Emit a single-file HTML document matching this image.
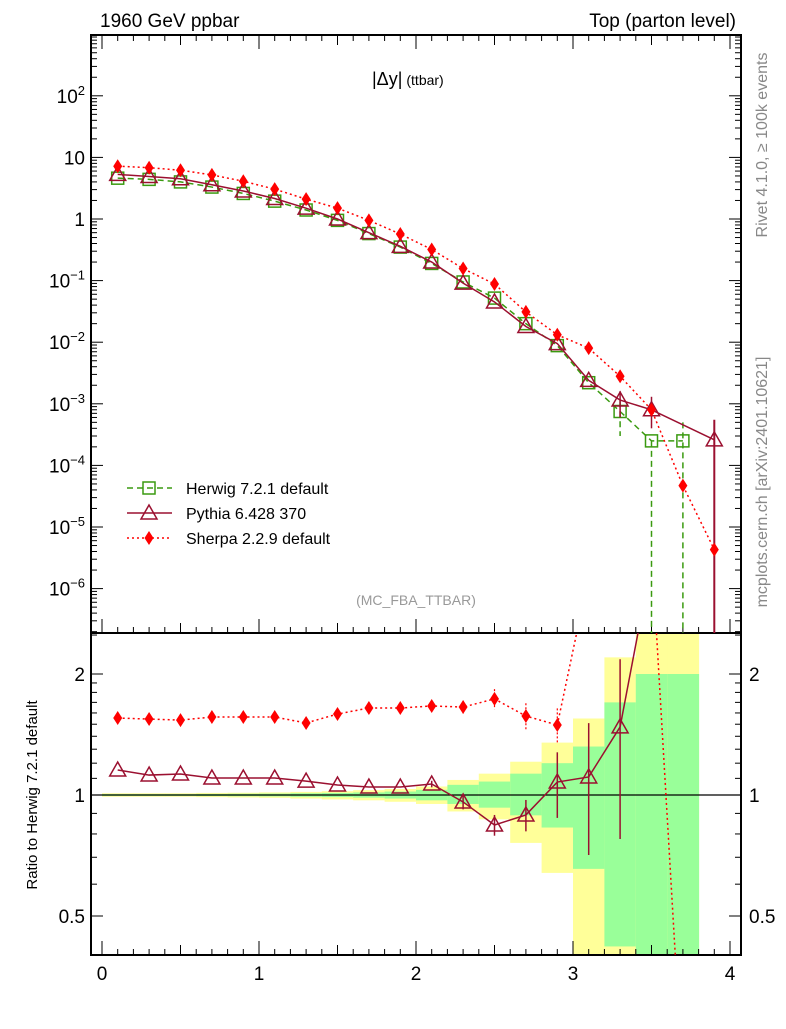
<!DOCTYPE html>
<html><head><meta charset="utf-8"><style>
body{margin:0;background:#fff;}
svg{font-family:"Liberation Sans",sans-serif;}
</style></head><body>
<svg id="c" width="786" height="1024" xmlns="http://www.w3.org/2000/svg"></svg>
<script>
const xs=[0.1,0.3,0.5,0.7,0.9,1.1,1.3,1.5,1.7,1.9,2.1,2.3,2.5,2.7,2.9,3.1,3.3,3.5,3.7,3.9];
const herwig=[4.6,4.4,4.0,3.3,2.6,1.95,1.4,0.95,0.58,0.35,0.19,0.095,0.052,0.02,0.0088,0.0022,0.00075,0.00025,0.00025,null];
const pythia=[5.3,4.9,4.5,3.6,2.85,2.15,1.5,1.0,0.6,0.36,0.2,0.091,0.045,0.018,0.0095,0.0024,0.00115,0.0008,null,0.00026];
const sherpa=[7.2,6.8,6.2,5.2,4.1,3.05,2.1,1.5,0.95,0.57,0.32,0.157,0.088,0.031,0.0132,0.008,0.0028,0.0008,0.000047,0.0000043];
const pythiaRatio=[1.154,1.121,1.128,1.102,1.102,1.102,1.083,1.059,1.047,1.047,1.065,0.961,0.842,0.892,1.077,1.109,1.477,null,null,null];
const pythiaRatioErr=[0,0,0,0,0,0,0,0,0,0,0.02,0.04,0.05,0.08,0.2,0.4,0.7,0,0,0];
const sherpaRatio=[1.554,1.545,1.536,1.563,1.563,1.563,1.511,1.59,1.646,1.646,1.665,1.655,1.734,1.572,1.493,null,null,null,null,null];
const sherpaRatioErr=[0,0,0,0,0,0,0,0,0.03,0.04,0.05,0.06,0.1,0.12,0.15,0,0,0,0,0];
const yelHi=[1.01,1.01,1.01,1.012,1.013,1.015,1.018,1.022,1.028,1.035,1.05,1.09,1.13,1.21,1.35,1.55,2.2,3,3,null];
const yelLo=[0.99,0.99,0.99,0.988,0.986,0.984,0.98,0.975,0.97,0.962,0.95,0.91,0.87,0.76,0.64,0.3,0.37,0.3,0.3,null];
const grnHi=[1.005,1.005,1.005,1.006,1.007,1.008,1.01,1.012,1.015,1.02,1.03,1.06,1.08,1.13,1.2,1.32,1.7,2.0,2.0,null];
const grnLo=[0.995,0.995,0.995,0.994,0.993,0.992,0.99,0.988,0.985,0.98,0.97,0.95,0.93,0.89,0.83,0.655,0.42,0.3,0.3,null];
const yTickExp=[-6,-5,-4,-3,-2,-1,0,1,2];
const xTicks=[0,1,2,3,4];
const rTicks=[0.5,1,2];

const S=document.getElementById('c');const NS='http://www.w3.org/2000/svg';
function el(t,a,p){const e=document.createElementNS(NS,t);for(const k in a)e.setAttribute(k,a[k]);(p||S).appendChild(e);return e;}
const L=91,R=741,T=35,MB=633,RB=955;
const X=v=>102+157*v;
const Y=v=>219-61.6*Math.log10(v);
const RY=v=>795-121*Math.log2(v);
const defs=el('defs',{});
const c1=el('clipPath',{id:'cm'},defs);el('rect',{x:L,y:T,width:R-L,height:MB-T},c1);
const c2=el('clipPath',{id:'cr'},defs);el('rect',{x:L,y:MB,width:R-L,height:RB-MB},c2);
const gb=el('g',{'clip-path':'url(#cr)'});
xs.forEach((x,i)=>{if(yelHi[i]==null)return;
 const r=el('rect',{x:X(x-0.1),y:RY(yelHi[i]),width:157*0.2+0.5,height:RY(yelLo[i])-RY(yelHi[i]),fill:'#ffff99'},gb);
 
 const g=el('rect',{x:X(x-0.1),y:RY(grnHi[i]),width:157*0.2+0.5,height:RY(grnLo[i])-RY(grnHi[i]),fill:'#99ff99'},gb);
 });
el('line',{x1:L,x2:R,y1:RY(1),y2:RY(1),stroke:'#000','stroke-width':1.2});
el('rect',{x:L,y:T,width:R-L,height:MB-T,fill:'none',stroke:'#000','stroke-width':2});
el('rect',{x:L,y:MB,width:R-L,height:RB-MB,fill:'none',stroke:'#000','stroke-width':2});
yTickExp.forEach(e=>{const y=Y(Math.pow(10,e));
 el('line',{x1:L,x2:L+12,y1:y,y2:y,stroke:'#000'});el('line',{x1:R,x2:R-12,y1:y,y2:y,stroke:'#000'});
 for(let m=2;m<10;m++){const yy=Y(m*Math.pow(10,e));if(yy<T)continue;
  el('line',{x1:L,x2:L+6,y1:yy,y2:yy,stroke:'#000'});el('line',{x1:R,x2:R-6,y1:yy,y2:yy,stroke:'#000'});}
 const t=el('text',{x:L-6,y:y+7,'text-anchor':'end','font-size':19});
 
 if(e==0)t.textContent='1';else if(e==1)t.textContent='10';else{t.textContent='10';const s=el('tspan',{dy:-8,'font-size':13},t);s.textContent=e<0?'\u2212'+(-e):e;}
});
for(let m=2;m<10;m++){const yy=Y(m*1e-7);if(yy<MB){el('line',{x1:L,x2:L+6,y1:yy,y2:yy,stroke:'#000'});el('line',{x1:R,x2:R-6,y1:yy,y2:yy,stroke:'#000'});}}
for(let k=0;k<=41;k++){const v=k*0.1;const x=X(v);if(x>R)break;const maj=k%10==0,mid=k%5==0;const h=maj?14:(mid?10:6);
 [MB,RB].forEach(b=>el('line',{x1:x,x2:x,y1:b,y2:b-h,stroke:'#000'}));el('line',{x1:x,x2:x,y1:T,y2:T+h,stroke:'#000'});}
xTicks.forEach(v=>{const t=el('text',{x:X(v),y:980,'text-anchor':'middle','font-size':19});t.textContent=v;
 });
const rmin=[0.4,0.6,0.7,0.8,0.9,1.1,1.2,1.3,1.4,1.5,1.6,1.7,1.8,1.9,2.5];
rmin.forEach(v=>{const y=RY(v);if(y<MB||y>RB)return;el('line',{x1:L,x2:L+6,y1:y,y2:y,stroke:'#000'});el('line',{x1:R,x2:R-6,y1:y,y2:y,stroke:'#000'});});
rTicks.forEach(v=>{const y=RY(v);el('line',{x1:L,x2:L+12,y1:y,y2:y,stroke:'#000'});el('line',{x1:R,x2:R-12,y1:y,y2:y,stroke:'#000'});
 const a=el('text',{x:L-6,y:y+7,'text-anchor':'end','font-size':19});a.textContent=v;
 const b=el('text',{x:R+8,y:y+7,'font-size':19});b.textContent=v;});
function poly(arr,f,clip,attrs,name){const g=el('g',{'clip-path':clip});
 let pts=[];xs.forEach((x,i)=>{if(arr[i]!=null)pts.push(X(x)+','+f(arr[i]));});
 el('polyline',Object.assign({points:pts.join(' '),fill:'none'},attrs),g);return g;}
function marker(g,type,x,y,col){
 if(type=='sq'){el('rect',{x:x-6,y:y-6,width:12,height:12,fill:'none',stroke:col,'stroke-width':1.5},g);}
 else if(type=='tri'){el('polygon',{points:`${x},${y-8} ${x-8},${y+6} ${x+8},${y+6}`,fill:'none',stroke:col,'stroke-width':1.5},g);}
 else el('polygon',{points:`${x},${y-7} ${x-4.5},${y} ${x},${y+7} ${x+4.5},${y}`,fill:col},g);}
const gH=poly(herwig,Y,'url(#cm)',{stroke:'#3a9a10','stroke-width':1.5,'stroke-dasharray':'6,4'},'herwig-series');
el('line',{x1:X(3.5),x2:X(3.5),y1:Y(herwig[17]),y2:MB,stroke:'#3a9a10','stroke-width':1.5,'stroke-dasharray':'6,4'},gH);
el('line',{x1:X(3.7),x2:X(3.7),y1:Y(0.0005),y2:MB,stroke:'#3a9a10','stroke-width':1.5,'stroke-dasharray':'6,4'},gH);
el('line',{x1:X(3.3),x2:X(3.3),y1:Y(0.0011),y2:Y(0.0003),stroke:'#3a9a10','stroke-width':1.5,'stroke-dasharray':'6,4'},gH);
xs.forEach((x,i)=>{if(herwig[i]!=null)marker(gH,'sq',X(x),Y(herwig[i]),'#3a9a10');});
const gP=poly(pythia,Y,'url(#cm)',{stroke:'#9b1030','stroke-width':1.5},'pythia-series');
el('line',{x1:X(3.9),x2:X(3.9),y1:Y(0.00055),y2:MB,stroke:'#9b1030','stroke-width':2},gP);
el('line',{x1:X(3.5),x2:X(3.5),y1:Y(0.0013),y2:Y(0.0004),stroke:'#9b1030','stroke-width':1.5},gP);
el('line',{x1:X(3.3),x2:X(3.3),y1:Y(0.0016),y2:Y(0.0006),stroke:'#9b1030','stroke-width':1.5},gP);
xs.forEach((x,i)=>{if(pythia[i]!=null)marker(gP,'tri',X(x),Y(pythia[i]),'#9b1030');});
const gS=poly(sherpa,Y,'url(#cm)',{stroke:'#ff0000','stroke-width':1.5,'stroke-dasharray':'2,3'},'sherpa-series');
xs.forEach((x,i)=>{if(sherpa[i]!=null)marker(gS,'dia',X(x),Y(sherpa[i]),'#ff0000');});
const gPR=poly(pythiaRatio,RY,'url(#cr)',{stroke:'#9b1030','stroke-width':1.5},'pythia-ratio-series');
el('line',{x1:X(3.3),y1:RY(pythiaRatio[16]),x2:X(3.45),y2:RY(3),stroke:'#9b1030','stroke-width':1.5},gPR);
xs.forEach((x,i)=>{if(pythiaRatio[i]==null)return;const e=pythiaRatioErr[i];
 if(e>0){el('line',{x1:X(x),x2:X(x),y1:RY(pythiaRatio[i]+e),y2:RY(Math.max(0.3,pythiaRatio[i]-e)),stroke:'#9b1030','stroke-width':1.5},gPR);}
 marker(gPR,'tri',X(x),RY(pythiaRatio[i]),'#9b1030');});
const gSR=poly(sherpaRatio,RY,'url(#cr)',{stroke:'#ff0000','stroke-width':1.5,'stroke-dasharray':'2,3'},'sherpa-ratio-series');
el('line',{x1:X(2.9),y1:RY(sherpaRatio[14]),x2:X(3.03),y2:RY(2.6),stroke:'#ff0000','stroke-width':1.5,'stroke-dasharray':'2,3'},gSR);
el('line',{x1:X(3.53),y1:RY(2.6),x2:X(3.66),y2:RY(0.35),stroke:'#ff0000','stroke-width':1.5,'stroke-dasharray':'2,3'},gSR);
xs.forEach((x,i)=>{if(sherpaRatio[i]==null)return;const e=sherpaRatioErr[i];
 if(e>0)el('line',{x1:X(x),x2:X(x),y1:RY(sherpaRatio[i]+e),y2:RY(sherpaRatio[i]-e),stroke:'#ff0000','stroke-width':1.2,'stroke-dasharray':'2,2'},gSR);
 marker(gSR,'dia',X(x),RY(sherpaRatio[i]),'#ff0000');});
const lg=el('g',{});
[['Herwig 7.2.1 default','#3a9a10','6,4','sq'],['Pythia 6.428 370','#9b1030','','tri'],['Sherpa 2.2.9 default','#ff0000','2,3','dia']].forEach((d,i)=>{
 const y=488+25*i;const g=el('g',{},lg);
 el('line',{x1:127,x2:172,y1:y,y2:y,stroke:d[1],'stroke-width':1.5,'stroke-dasharray':d[2]},g);marker(g,d[3],149,y,d[1]);
 const t=el('text',{x:186,y:y+6,'font-size':16},g);t.textContent=d[0];});
function txt(s,a,name){const t=el('text',a);t.textContent=s;return t;}
txt('1960 GeV ppbar',{x:100,y:27,'font-size':19},'header-left');
txt('Top (parton level)',{x:736,y:27,'font-size':19,'text-anchor':'end'},'header-right');
const ti=txt('|\u0394y|',{x:372,y:85,'font-size':18},'plot-title');const ts=el('tspan',{'font-size':14,dx:4},ti);ts.textContent='(ttbar)';
txt('(MC_FBA_TTBAR)',{x:416,y:605,'font-size':14,fill:'#999','text-anchor':'middle'},'analysis-id');
txt('Rivet 4.1.0, \u2265 100k events',{x:0,y:0,'font-size':16,fill:'#888','text-anchor':'middle',transform:'translate(767,145) rotate(-90)'},'rivet-version');
txt('mcplots.cern.ch [arXiv:2401.10621]',{x:0,y:0,'font-size':16,fill:'#888','text-anchor':'middle',transform:'translate(767,482) rotate(-90)'},'source-label');
txt('Ratio to Herwig 7.2.1 default',{x:0,y:0,'font-size':15,'text-anchor':'middle',transform:'translate(37,795) rotate(-90)'},'ratio-y-axis-title');
</script>
</body></html>
